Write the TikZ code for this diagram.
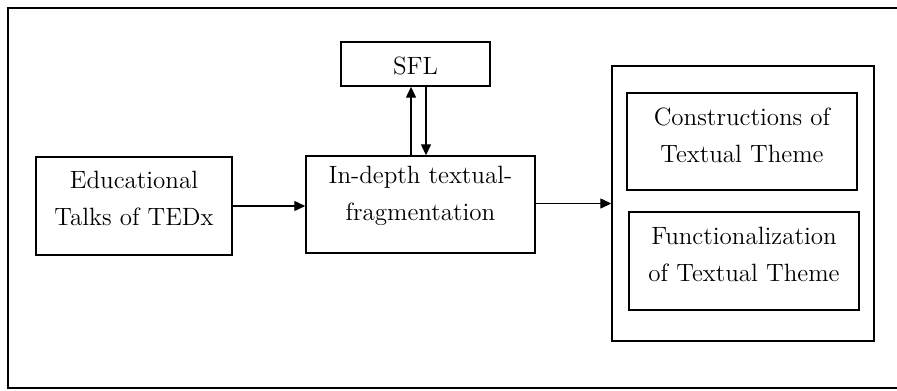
\documentclass[tikz,border=0pt]{standalone}
\usepackage{tikz}
\usetikzlibrary{arrows.meta}

\tikzset{
  box/.style={draw,line width=0.7pt,inner sep=0pt},
  txt/.style={align=center,inner sep=0pt,font=\fontsize{12.5}{18.5}\selectfont},
  flow/.style={line width=0.65pt,-{Triangle[length=5.5pt,width=5pt]}},
}

\begin{document}
\begin{tikzpicture}[x=0.5pt,y=-0.5pt]
\useasboundingbox (0,0) rectangle (897,390);

% frame round the picture (open on the right)
\draw[line width=1.1pt] (897,8) -- (8,8) -- (8,388) -- (897,388);

% source box
\node[box,minimum width=98pt,minimum height=49pt] (edu) at (134,206) {};
\node[txt] (edu-t) at ([yshift=3.9pt]edu.center) {Educational\\Talks of TEDx};

% analysis box
\node[box,minimum width=114.5pt,minimum height=48.5pt] (frag) at (420.5,204.5) {};
\node[txt] (frag-t) at ([yshift=4.2pt]frag.center) {In-depth textual-\\fragmentation};

% theory box
\node[box,minimum width=74.5pt,minimum height=22pt] (sfl) at (415.5,64) {};
\node[txt] (sfl-t) at ([yshift=-1pt]sfl.center) {SFL};

% results box with its two parts
\node[box,minimum width=131pt,minimum height=137.5pt] (res) at (743,203.5) {};
\node[box,minimum width=115pt,minimum height=48.5pt] (cons) at (742,141.5) {};
\node[txt] (cons-t) at ([yshift=3.3pt]cons.center) {Constructions of\\Textual Theme};
\node[box,minimum width=115pt,minimum height=49pt] (func) at (744,261) {};
\node[txt] (func-t) at ([yshift=3.5pt]func.center) {Functionalization\\of Textual Theme};

% arrows
\draw[flow] (edu.east) -- (edu.east -| frag.west);
\draw[flow] ([yshift=0.5pt]frag.east) -- ([yshift=0.5pt]frag.east -| res.west);
\draw[flow] ([xshift=-4.75pt]frag.north) -- ([xshift=-4.75pt]frag.north |- sfl.south);
\draw[flow] ([xshift=2.75pt]frag.north |- sfl.south) -- ([xshift=2.75pt]frag.north);

\end{tikzpicture}
\end{document}
